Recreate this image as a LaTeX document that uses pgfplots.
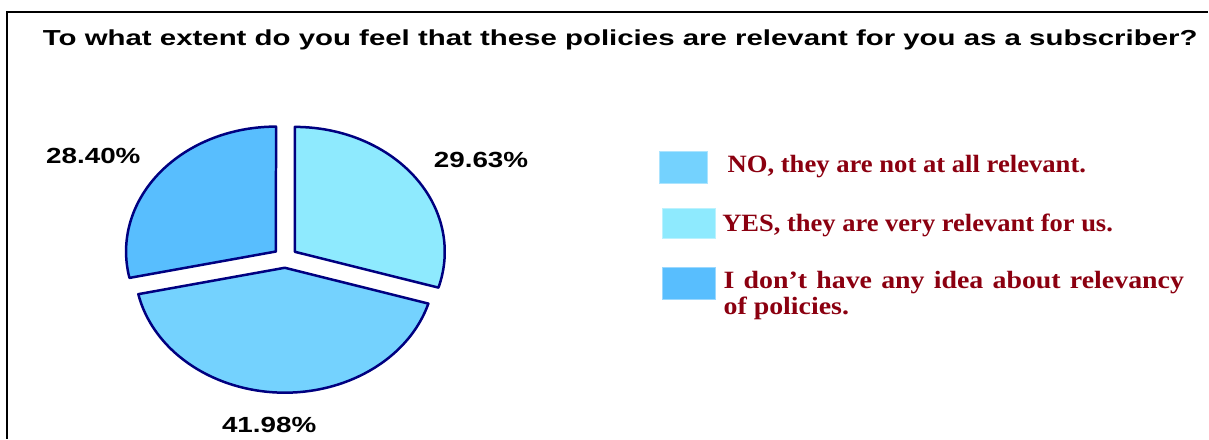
\documentclass[border=0pt]{standalone}
\usepackage{pgfplots}
\pgfplotsset{compat=1.18}
\usepackage{pgfplotstable}
\usepackage{fontspec}
\setmainfont{Liberation Serif}
\newfontfamily\arial{Liberation Sans}
\definecolor{cNO}{RGB}{116,210,254}
\definecolor{cYES}{RGB}{142,234,254}
\definecolor{cIDK}{RGB}{88,190,254}
\definecolor{navy}{RGB}{0,0,128}
\definecolor{legred}{RGB}{139,0,16}

\pgfplotstableread{
key value
YES 29.63
NO 41.98
IDK 28.40
}\piedata
\pgfplotstablegetelem{0}{value}\of\piedata \edef\vYES{\pgfplotsretval}
\pgfplotstablegetelem{1}{value}\of\piedata \edef\vNO{\pgfplotsretval}
\pgfplotstablegetelem{2}{value}\of\piedata \edef\vIDK{\pgfplotsretval}
\pgfmathsetmacro\aA{90}
\pgfmathsetmacro\aB{90-3.6*\vYES}
\pgfmathsetmacro\aC{\aB-3.6*\vNO}
\pgfmathsetmacro\aD{\aC-3.6*\vIDK}

\newcommand\pieslice[3]{%
  \pgfmathsetmacro\mA{(#1+#2)/2}%
  \pgfmathsetmacro\ox{285.5+12*cos(\mA)}%
  \pgfmathsetmacro\oy{181+10*sin(\mA)}%
  \filldraw[fill=#3, draw=navy, line width=2.5bp, line join=round]
    (axis cs:\ox,\oy) -- ++(#1:150bp and 125bp)
    arc[start angle=#1, end angle=#2, x radius=150bp, y radius=125bp] -- cycle;}

\newcommand\pct[1]{\scalebox{1.27}[1]{\arial\bfseries\fontsize{22}{24}\selectfont\pgfmathprintnumber[fixed,precision=2,fixed zerofill,assume math mode=true]{#1}\%}}
\newcommand\legtext[2][1.07]{\scalebox{#1}[1]{\bfseries\fontsize{25}{27}\selectfont #2}}

\begin{document}
\begin{tikzpicture}
\begin{axis}[x=1bp, y=1bp, xmin=0, xmax=1209, ymin=0, ymax=439,
  hide axis, clip=false, scale only axis]
\pgfplotsextra{%
  \path (axis cs:0,0) rectangle (axis cs:1209,439);
  \draw[line width=2bp] (axis cs:7,0) -- (axis cs:7,427) -- (axis cs:1209,427);
  \pieslice{\aA}{\aB}{cYES}
  \pieslice{\aB}{\aC}{cNO}
  \pieslice{\aC}{\aD}{cIDK}
}
\node[anchor=base west, inner sep=0] at (axis cs:42.7,393.3)
  {\scalebox{1.355}[1]{\arial\bfseries\fontsize{21.8}{24}\selectfont To what extent do you feel that these policies are relevant for you as a subscriber?}};
\node[anchor=base west, inner sep=0] at (axis cs:46,275) {\pct{\vIDK}};
\node[anchor=base west, inner sep=0] at (axis cs:434,271) {\pct{\vYES}};
\node[anchor=base west, inner sep=0] at (axis cs:222,6) {\pct{\vNO}};
% legend
\fill[cNO, draw=cNO!60!white, line width=1bp] (axis cs:660,255.7) rectangle (axis cs:708.3,287.3);
\fill[cYES, draw=cYES!60!white, line width=1bp] (axis cs:663.3,200.7) rectangle (axis cs:715.7,230);
\fill[cIDK, draw=cIDK!60!white, line width=1bp] (axis cs:663.3,139.7) rectangle (axis cs:715.7,171.3);
\node[anchor=base west, inner sep=0, text=legred] at (axis cs:728,266) {\legtext{NO, they are not at all relevant.}};
\node[anchor=base west, inner sep=0, text=legred] at (axis cs:722.7,207.3) {\legtext[1.065]{YES, they are very relevant for us.}};
\node[anchor=base west, inner sep=0, text=legred] at (axis cs:724,150.7) {\legtext[1.12]{\spaceskip=0.33em plus 0.1em\relax I don’t have any idea about relevancy}};
\node[anchor=base west, inner sep=0, text=legred] at (axis cs:724,124) {\legtext[1.12]{of policies.}};
\end{axis}
\end{tikzpicture}
\end{document}
